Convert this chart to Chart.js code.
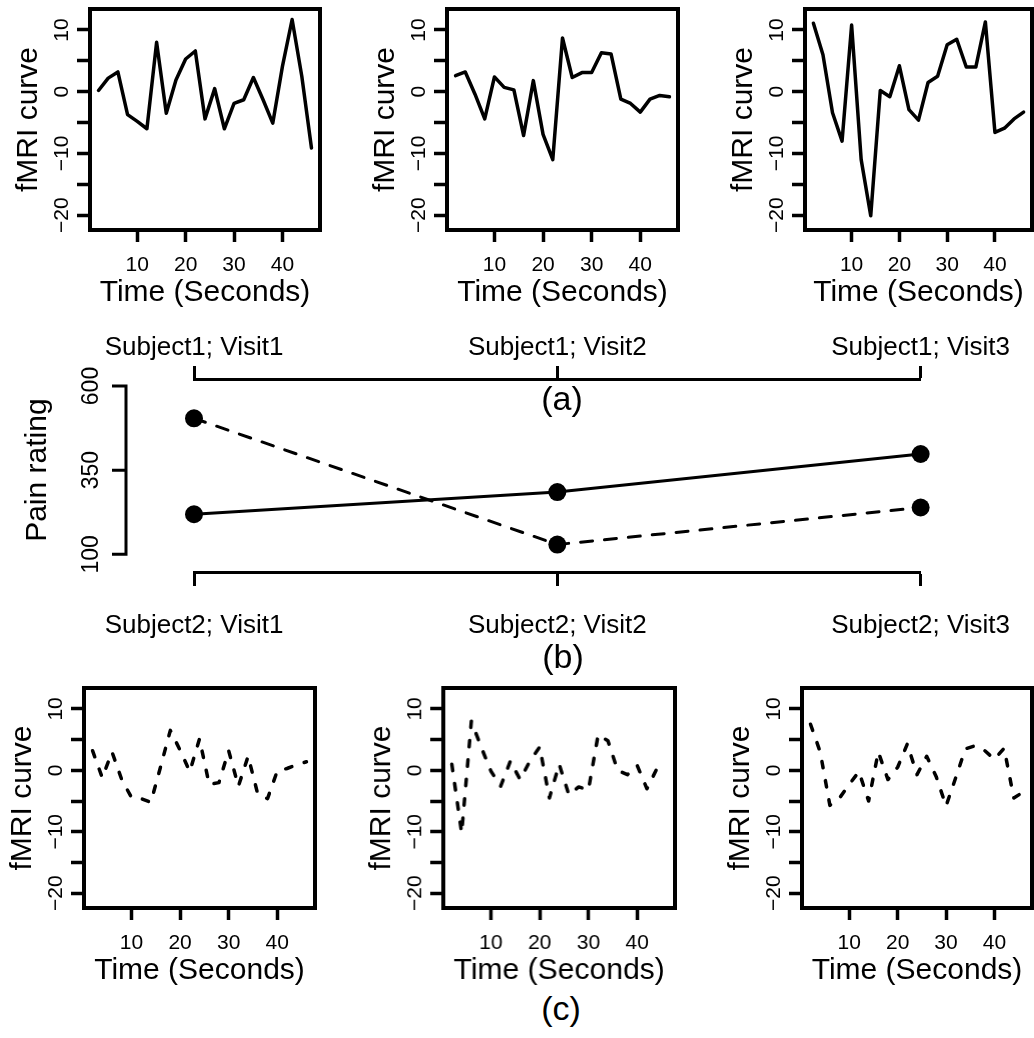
<!DOCTYPE html>
<html>
<head>
<meta charset="utf-8">
<title>fMRI curves and pain ratings</title>
<script src="https://cdn.jsdelivr.net/npm/chart.js@4.4.1/dist/chart.umd.min.js"></script>
<style>
  html, body { margin: 0; padding: 0; background: #fff; }
  body { width: 1034px; height: 1038px; position: relative; overflow: hidden; font-family: "Liberation Sans", Arial, sans-serif; }
  canvas { position: absolute; }
  .tag { position: absolute; font-size: 34px; line-height: 1; color: #000; transform: translate(-50%, -50%); white-space: nowrap; }
</style>
</head>
<body>
<canvas id="a1"></canvas>
<canvas id="a2"></canvas>
<canvas id="a3"></canvas>
<canvas id="pain"></canvas>
<canvas id="c1"></canvas>
<canvas id="c2"></canvas>
<canvas id="c3"></canvas>
<div class="tag" style="left:562px; top:398px">(a)</div>
<div class="tag" style="left:563px; top:656px">(b)</div>
<div class="tag" style="left:561px; top:1008px">(c)</div>

<script>
// time axis of every fMRI curve (seconds)
const timeSec = [2, 4, 6, 8, 10, 12, 14, 16, 18, 20, 22, 24, 26, 28, 30, 32, 34, 36, 38, 40, 42, 44, 46];

// Subject1 curves (solid)
const s1Visit1 = [0.2, 2.2, 3.2, -3.7, -4.8, -6.0, 8.0, -3.5, 1.9, 5.3, 6.6, -4.4, 0.5, -6.0, -1.9, -1.3, 2.3, -1.3, -5.1, 4.1, 11.7, 2.5, -9.1];
const s1Visit2 = [2.6, 3.2, -0.4, -4.4, 2.4, 0.7, 0.3, -7.1, 1.8, -6.9, -11.0, 8.7, 2.3, 3.1, 3.1, 6.3, 6.1, -1.2, -1.9, -3.3, -1.2, -0.6, -0.8];
const s1Visit3 = [11.1, 6.0, -3.4, -8.0, 10.8, -11.0, -20.1, 0.2, -0.8, 4.2, -2.9, -4.6, 1.5, 2.5, 7.6, 8.5, 4.0, 4.0, 11.3, -6.6, -5.9, -4.4, -3.3];

// Subject2 curves (dashed)
const s2Visit1 = [3.2, -1.2, 3.0, -1.5, -4.4, -4.6, -5.2, 0.6, 6.5, 3.3, -0.2, 5.1, -2.3, -2.0, 3.2, -2.6, 2.3, -3.9, -4.6, -0.1, 0.3, 0.9, 1.4];
const s2Visit2 = [1.0, -10.2, 8.0, 3.8, -0.1, -2.6, 1.5, -1.5, 1.5, 3.8, -4.5, 1.0, -4.0, -2.7, -3.2, 5.8, 4.8, 0.0, -0.7, 0.8, -3.0, 0.2, 0.3];
const s2Visit3 = [7.5, 3.0, -5.7, -4.5, -2.3, -0.2, -5.0, 3.0, -1.5, 0.5, 4.3, -0.7, 2.3, -1.1, -5.8, -1.2, 3.5, 4.0, 3.2, 1.8, 3.6, -4.5, -3.5];

const timeTicks = [10, 20, 30, 40];
const fmriTicks = [-20, -15, -10, -5, 0, 5, 10];
const fmriLabelTicks = [-20, -10, 0, 10];

// pain ratings per visit
const visits = [1, 2, 3];
const subject1Labels = ["Subject1; Visit1", "Subject1; Visit2", "Subject1; Visit3"];
const subject2Labels = ["Subject2; Visit1", "Subject2; Visit2", "Subject2; Visit3"];
const painSubject1 = [219, 285, 398];
const painSubject2 = [504, 129, 239];
const painTicks = [100, 350, 600];

const FONT = '"Liberation Sans", Arial, sans-serif';
Chart.defaults.font.family = FONT;
Chart.defaults.color = '#000';

const minus = v => String(v).replace('-', '\u2212');

// R style box() around the plot region
const boxPlugin = {
  id: 'box',
  afterDatasetsDraw(chart) {
    const { ctx, chartArea: a } = chart;
    ctx.save();
    ctx.strokeStyle = '#000';
    ctx.lineWidth = 4;
    ctx.strokeRect(a.left, a.top, a.right - a.left, a.bottom - a.top);
    ctx.restore();
  }
};

// y axis of the pain chart, drawn R style (line only from first to last tick)
const painAxisPlugin = {
  id: 'painAxis',
  afterDraw(chart, args, opts) {
    const { ctx, chartArea, scales: { y } } = chart;
    const x = chartArea.left - opts.gap;
    const top = y.getPixelForValue(painTicks[painTicks.length - 1]);
    const bottom = y.getPixelForValue(painTicks[0]);
    ctx.save();
    ctx.strokeStyle = '#000';
    ctx.lineWidth = 3;
    ctx.beginPath();
    ctx.moveTo(x, top);
    ctx.lineTo(x, bottom);
    painTicks.forEach(v => {
      const py = y.getPixelForValue(v);
      ctx.moveTo(x + 1.5, py);
      ctx.lineTo(x - opts.tickLength, py);
    });
    ctx.stroke();

    ctx.fillStyle = '#000';
    ctx.textAlign = 'center';
    ctx.textBaseline = 'middle';
    ctx.font = '23px ' + FONT;
    painTicks.forEach(v => {
      ctx.save();
      ctx.translate(x - opts.labelOffset, y.getPixelForValue(v));
      ctx.rotate(-Math.PI / 2);
      ctx.fillText(String(v), 0, 0);
      ctx.restore();
    });

    ctx.font = '30px ' + FONT;
    ctx.save();
    ctx.translate(x - opts.titleOffset, (top + bottom) / 2);
    ctx.rotate(-Math.PI / 2);
    ctx.fillText(opts.title, 0, 0);
    ctx.restore();
    ctx.restore();
  }
};

// layout of the small fMRI panels
const yAxisWidth = 90;
const xAxisHeight = 78;
const padTop = 20;
const padRight = 4;

function placeCanvas(canvas, left, top, width, height) {
  canvas.width = width;
  canvas.height = height;
  canvas.style.left = left + 'px';
  canvas.style.top = top + 'px';
  canvas.style.width = width + 'px';
  canvas.style.height = height + 'px';
}

function fmriPanel(id, box, values, dashed) {
  const canvas = document.getElementById(id);
  placeCanvas(canvas, box.left - yAxisWidth, box.top - padTop,
    yAxisWidth + (box.right - box.left) + padRight,
    padTop + (box.bottom - box.top) + xAxisHeight);

  new Chart(canvas, {
    type: 'line',
    data: {
      labels: timeSec,
      datasets: [{
        data: timeSec.map((t, i) => ({ x: t, y: values[i] })),
        borderColor: '#000',
        borderWidth: 3.5,
        borderDash: dashed ? [6.5, 13] : [],
        borderCapStyle: 'round',
        borderJoinStyle: 'round',
        pointRadius: 0,
        tension: 0
      }]
    },
    options: {
      responsive: false,
      animation: false,
      devicePixelRatio: 1,
      layout: { padding: { top: padTop, right: padRight, left: 0, bottom: 0 } },
      plugins: { legend: { display: false }, tooltip: { enabled: false } },
      events: [],
      scales: {
        x: {
          type: 'linear',
          min: 0.24,
          max: 47.76,
          afterBuildTicks: s => { s.ticks = timeTicks.map(v => ({ value: v })); },
          afterFit: s => { s.height = xAxisHeight; },
          border: { display: false },
          grid: { drawOnChartArea: false, tickLength: 12, tickWidth: 3.5, tickColor: '#000' },
          ticks: { font: { size: 21 }, padding: 11, maxRotation: 0, autoSkip: false, callback: v => minus(v) },
          title: { display: true, text: 'Time (Seconds)', font: { size: 30, lineHeight: 1 }, padding: 0 }
        },
        y: {
          min: -22.4,
          max: 13.4,
          afterBuildTicks: s => { s.ticks = fmriTicks.map(v => ({ value: v })); },
          afterFit: s => { s.width = yAxisWidth; },
          border: { display: false },
          grid: { drawOnChartArea: false, tickLength: 13, tickWidth: 3.5, tickColor: '#000' },
          ticks: {
            font: { size: 21 },
            minRotation: 90,
            maxRotation: 90,
            crossAlign: 'center',
            padding: -3,
            autoSkip: false,
            callback: v => fmriLabelTicks.includes(v) ? minus(v) : ''
          },
          title: { display: true, text: 'fMRI curve', font: { size: 30, lineHeight: 1 }, padding: { top: 14, bottom: 0 } }
        }
      }
    },
    plugins: [boxPlugin]
  });
}

fmriPanel('a1', { left: 90, right: 320, top: 9, bottom: 230 }, s1Visit1, false);
fmriPanel('a2', { left: 447, right: 678, top: 9, bottom: 230 }, s1Visit2, false);
fmriPanel('a3', { left: 805, right: 1032, top: 9, bottom: 230 }, s1Visit3, false);
fmriPanel('c1', { left: 84, right: 315, top: 687.5, bottom: 908 }, s2Visit1, true);
fmriPanel('c2', { left: 443, right: 674.5, top: 687.5, bottom: 908 }, s2Visit2, true);
fmriPanel('c3', { left: 802, right: 1032, top: 687.5, bottom: 908 }, s2Visit3, true);

// middle pain rating chart
const painCanvas = document.getElementById('pain');
const painTop = 300, painHeight = 390;
const plotLeft = 194, plotRight = 926, plotTop = 379, plotBottom = 572;
placeCanvas(painCanvas, 0, painTop, 1034, painHeight);

new Chart(painCanvas, {
  type: 'line',
  data: {
    datasets: [
      {
        label: 'Subject1',
        data: visits.map((v, i) => ({ x: v, y: painSubject1[i] })),
        borderColor: '#000',
        backgroundColor: '#000',
        borderWidth: 3,
        pointRadius: 9,
        pointBorderWidth: 0,
        pointBackgroundColor: '#000',
        tension: 0,
        clip: false
      },
      {
        label: 'Subject2',
        data: visits.map((v, i) => ({ x: v, y: painSubject2[i] })),
        borderColor: '#000',
        backgroundColor: '#000',
        borderWidth: 3,
        borderDash: [12, 12],
        borderCapStyle: 'round',
        pointRadius: 9,
        pointBorderWidth: 0,
        pointBackgroundColor: '#000',
        tension: 0,
        clip: false
      }
    ]
  },
  options: {
    responsive: false,
    animation: false,
    devicePixelRatio: 1,
    events: [],
    layout: { padding: { left: plotLeft, right: 1034 - plotRight, top: 0, bottom: 0 } },
    plugins: {
      legend: { display: false },
      tooltip: { enabled: false },
      painAxis: { gap: 68, tickLength: 14, labelOffset: 34, titleOffset: 88, title: 'Pain rating' }
    },
    scales: {
      x: {
        type: 'linear',
        position: 'bottom',
        min: 1,
        max: 3,
        afterBuildTicks: s => { s.ticks = visits.map(v => ({ value: v })); },
        afterFit: s => { s.height = painTop + painHeight - plotBottom; },
        border: { display: true, color: '#000', width: 3 },
        grid: { drawOnChartArea: false, tickLength: 14, tickWidth: 3, tickColor: '#000' },
        ticks: { font: { size: 26 }, padding: 24, maxRotation: 0, autoSkip: false, callback: v => subject2Labels[visits.indexOf(v)] }
      },
      xTop: {
        type: 'linear',
        axis: 'x',
        position: 'top',
        min: 1,
        max: 3,
        afterBuildTicks: s => { s.ticks = visits.map(v => ({ value: v })); },
        afterFit: s => { s.height = plotTop - painTop; },
        border: { display: true, color: '#000', width: 3 },
        grid: { drawOnChartArea: false, tickLength: 13, tickWidth: 3, tickColor: '#000' },
        ticks: { font: { size: 26 }, padding: 2.5, maxRotation: 0, autoSkip: false, callback: v => subject1Labels[visits.indexOf(v)] }
      },
      y: {
        display: false,
        min: 47.4,
        max: 620.8
      }
    }
  },
  plugins: [painAxisPlugin]
});
</script>
</body>
</html>
